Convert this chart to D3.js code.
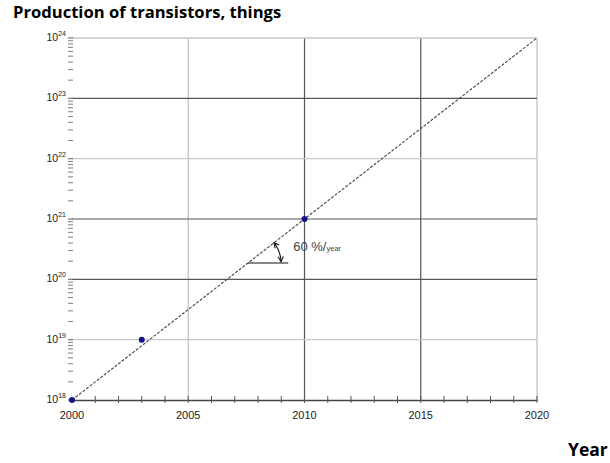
<!DOCTYPE html>
<html>
<head>
<meta charset="utf-8">
<script src="https://cdn.jsdelivr.net/npm/d3@7"></script>
<style>
  html, body { margin: 0; padding: 0; background: #fff; }
  svg { display: block; }
</style>
</head>
<body>
<svg id="chart" width="610" height="463"></svg>
<script>
// Measured production (year, transistors)
const years = [2000, 2003, 2010];
const transistors = [1e18, 1e19, 1e21];
// Trend line end points
const trendYears = [2000, 2020];
const trendValues = [1e18, 1e24];
// Axis ticks
const xTicks = [2000, 2005, 2010, 2015, 2020];
const yExponents = [18, 19, 20, 21, 22, 23, 24];
// Growth annotation
const growthLabel = "60 %/";
const growthUnit = "year";

const svg = d3.select("#chart");
const plotL = 72, plotR = 537, plotT = 38, plotB = 400;

const x = d3.scaleLinear().domain([2000, 2020]).range([plotL, plotR]);
const y = d3.scaleLog().domain([1e18, 1e24]).range([plotB, plotT]);

// Gridlines drawn darker for emphasis
const darkV = new Set([2010, 2015]);
const darkH = new Set([20, 21, 23]);

// Vertical gridlines
svg.append("g").selectAll("line").data(xTicks.filter(d => d > 2000)).join("line")
  .attr("x1", d => x(d)).attr("x2", d => x(d))
  .attr("y1", plotT).attr("y2", plotB)
  .attr("stroke", d => darkV.has(d) ? "#555" : "#c8c8c8")
  .attr("stroke-width", d => darkV.has(d) ? 1.2 : 1.4);

// Horizontal gridlines
svg.append("g").selectAll("line").data(yExponents.filter(d => d > 18)).join("line")
  .attr("x1", plotL).attr("x2", plotR)
  .attr("y1", d => y(Math.pow(10, d))).attr("y2", d => y(Math.pow(10, d)))
  .attr("stroke", d => darkH.has(d) ? "#555" : "#c8c8c8")
  .attr("stroke-width", d => darkH.has(d) ? 1.2 : 1.4);

// Minor log ticks on the left edge
const minor = [];
yExponents.slice(0, -1).forEach(e => {
  for (let k = 2; k <= 9; k++) minor.push(k * Math.pow(10, e));
});
svg.append("g").selectAll("line").data(minor).join("line")
  .attr("x1", plotL - 4).attr("x2", plotL + 1)
  .attr("y1", d => y(d)).attr("y2", d => y(d))
  .attr("stroke", "#888").attr("stroke-width", 1.1);
svg.append("g").selectAll("line").data(yExponents).join("line")
  .attr("x1", plotL - 4).attr("x2", plotL + 1)
  .attr("y1", d => y(Math.pow(10, d))).attr("y2", d => y(Math.pow(10, d)))
  .attr("stroke", "#777").attr("stroke-width", 1.2);

// Bottom axis with yearly ticks
const xAxis = d3.axisBottom(x).tickValues(d3.range(2000, 2021)).tickSize(0).tickFormat("");
const xg = svg.append("g").attr("transform", `translate(0,${plotB})`).call(xAxis);
xg.select(".domain").attr("stroke", "#444").attr("stroke-width", 1.3);
svg.append("g").selectAll("line").data(d3.range(2001, 2021)).join("line")
  .attr("x1", d => x(d)).attr("x2", d => x(d))
  .attr("y1", plotB - 4).attr("y2", plotB + 3)
  .attr("stroke", "#555").attr("stroke-width", 1);

// X tick labels
svg.append("g").selectAll("text").data(xTicks).join("text")
  .attr("x", d => x(d)).attr("y", plotB + 19)
  .attr("text-anchor", "middle")
  .attr("font-family", "Liberation Sans, Arial, sans-serif")
  .attr("font-size", 11).attr("fill", "#222")
  .text(d => d);

// Y tick labels: 10 with superscript exponent
const yl = svg.append("g").selectAll("text").data(yExponents).join("text")
  .attr("x", plotL - 6).attr("y", d => y(Math.pow(10, d)) + 3)
  .attr("text-anchor", "end")
  .attr("font-family", "Liberation Sans, Arial, sans-serif")
  .attr("font-size", 10.5).attr("fill", "#222");
yl.append("tspan").text("10");
yl.append("tspan").attr("dy", -5).attr("font-size", 7).text(d => d);

// Trend line
svg.append("line")
  .attr("x1", x(trendYears[0])).attr("y1", y(trendValues[0]))
  .attr("x2", x(trendYears[1])).attr("y2", y(trendValues[1]))
  .attr("stroke", "#444").attr("stroke-width", 1.1)
  .attr("stroke-dasharray", "3,1.5");

// Data points
svg.append("g").selectAll("circle").data(years).join("circle")
  .attr("cx", d => x(d)).attr("cy", (d, i) => y(transistors[i]))
  .attr("r", 3).attr("fill", "#14148a");

// Growth-angle annotation
const vx = x(2007.57);
const vy = y(Math.pow(10, 18 + (plotB - 263) / ((plotB - plotT) / 6)));
const hx = x(2009.3);
svg.append("line").attr("x1", vx).attr("y1", vy).attr("x2", hx).attr("y2", vy)
  .attr("stroke", "#111").attr("stroke-width", 1.2);

const slopeAngle = Math.atan2(y(trendValues[0]) - y(trendValues[1]), x(trendYears[1]) - x(trendYears[0]));
const r = 33;
const a0 = -slopeAngle, a1 = -0.04;
const arcPts = d3.range(0, 1.0001, 0.05).map(t => {
  const a = a0 + (a1 - a0) * t;
  return [vx + r * Math.cos(a), vy + r * Math.sin(a)];
});
svg.append("path").attr("d", d3.line()(arcPts))
  .attr("fill", "none").attr("stroke", "#111").attr("stroke-width", 1.1);

function arrowHead(p, dir) {
  const len = 5, w = 2.6;
  const ux = Math.cos(dir), uy = Math.sin(dir);
  const bx = p[0] - ux * len, by = p[1] - uy * len;
  svg.append("path")
    .attr("d", `M${bx - uy * w},${by + ux * w} L${p[0]},${p[1]} L${bx + uy * w},${by - ux * w}`)
    .attr("fill", "none").attr("stroke", "#111").attr("stroke-width", 1.1);
}
arrowHead(arcPts[arcPts.length - 1], a1 + Math.PI / 2);
arrowHead(arcPts[0], a0 - Math.PI / 2);

const gt = svg.append("text")
  .attr("x", hx + 5).attr("y", vy - 12)
  .attr("font-family", "Liberation Sans, Arial, sans-serif")
  .attr("fill", "#444");
gt.append("tspan").attr("font-size", 13).text(growthLabel);
gt.append("tspan").attr("font-size", 7.5).text(growthUnit);

// Titles
svg.append("text").attr("x", 13).attr("y", 18)
  .attr("font-family", "Open Sans, Liberation Sans, sans-serif")
  .attr("font-weight", "bold").attr("font-size", 16.6).attr("fill", "#000")
  .text("Production of transistors, things");
svg.append("text").attr("x", 568).attr("y", 456)
  .attr("font-family", "Open Sans, Liberation Sans, sans-serif")
  .attr("font-weight", "bold").attr("font-size", 17.5).attr("fill", "#000")
  .text("Year");
</script>
</body>
</html>
